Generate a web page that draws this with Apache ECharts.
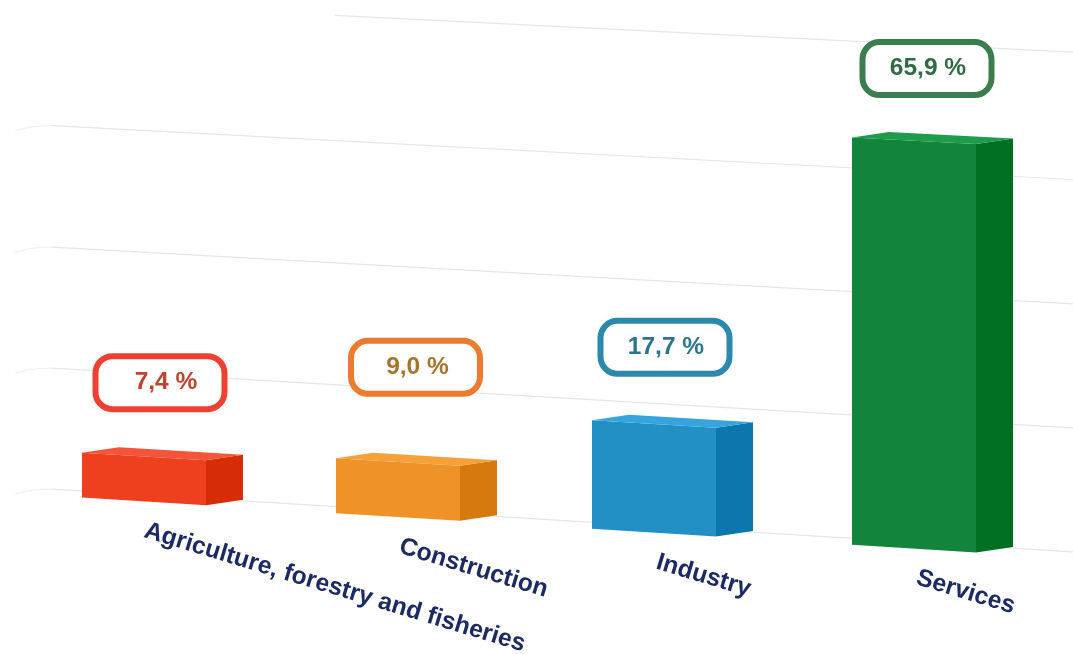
<!DOCTYPE html>
<html>
<head>
<meta charset="utf-8">
<style>html,body{margin:0;padding:0;background:#fff}#c{width:1073px;height:654px}</style>
<script src="https://cdn.jsdelivr.net/npm/echarts@6/dist/echarts.min.js"></script>
</head>
<body>
<div id="c"></div>
<script>
const categories = ['Agriculture, forestry and fisheries', 'Construction', 'Industry', 'Services'];
const values = [7.4, 9.0, 17.7, 65.9];
const valueLabels = ['7,4 %', '9,0 %', '17,7 %', '65,9 %'];
const gridTicks = [0, 20, 40, 60, 80];

const frontColors = ['#ee3f1f', '#ef9227', '#2290c5', '#12843c'];
const sideColors = ['#d62d07', '#d67a10', '#0b77ad', '#006f22'];
const topColors = ['#f4543a', '#f5a13a', '#37a4de', '#1e9b4b'];
const pillColors = ['#ee4030', '#ee7a30', '#2c88ad', '#3a7e4d'];
const pillTextColors = ['#c0432d', '#a8742a', '#2c7590', '#2f6b45'];
const barNudge = [0, -2, -2, 2];
const pillDx = [16, 17.5, 11, 13];
const pillDy = [-70, -91, -73, -69];
const pillTextDx = [6, 2, 1, 1];
const labelDx = [1, 0, 1, 5];

const GRID = { left: 16, top: 10, width: 1024, height: 490 };
const BOTTOM = GRID.top + GRID.height;
const HALF_W = 62, DEPTH_X = 37, DEPTH_Y = -5.5, WALL = 6.5;

// Perspective: sheared baseline, with the vertical scale growing to the right.
function project(px, py) {
  const h0 = BOTTOM - py;
  const h = h0 + 3.7 * Math.pow(h0 / GRID.height, 8);
  const f = (6.05 + 0.000145 * (px - 40)) / 6.125;
  return [px, 486 + 0.0614 * px - h * f];
}
const front = (px, py) => { const p = project(px, py); return [p[0], p[1] + WALL]; };

function renderGrid(params, api) {
  const v = api.value(0);
  const py = api.coord([0, v])[1];
  const isTop = v === gridTicks[gridTicks.length - 1];
  const children = [{
    type: 'line', silent: true,
    shape: { x1: isTop ? 335 : 52, y1: project(isTop ? 335 : 52, py)[1], x2: 1073, y2: project(1073, py)[1] },
    style: { stroke: '#e6e6e6', lineWidth: 1.2 }
  }];
  if (!isTop) {
    const a = project(52, py);
    children.push({
      type: 'polyline', silent: true,
      shape: { points: [[15, a[1] + 5], [32, a[1] + 1.2], a], smooth: 0.4 },
      style: { stroke: '#f1f1f1', lineWidth: 1.2, fill: null }
    });
  }
  return { type: 'group', children };
}

function renderBar(params, api) {
  const i = params.dataIndex;
  const v = api.value(1);
  const base = api.coord([i, 0]);
  const cx = base[0] + barNudge[i];
  const y0 = base[1], y1 = api.coord([i, v])[1];
  const lx = cx - HALF_W, rx = cx + HALF_W;
  const tl = front(lx, y1), tr = front(rx, y1), bl = front(lx, y0), br = front(rx, y0);
  const d = p => [p[0] + DEPTH_X, p[1] + DEPTH_Y];
  const poly = (pts, fill) => ({ type: 'polygon', shape: { points: pts }, style: { fill } });
  const pillW = 129, pillH = 53;
  const pcx = cx + pillDx[i], pcy = tl[1] + pillDy[i];
  const textStart = front(base[0], y0);
  return {
    type: 'group',
    children: [
      poly([tl, tr, br, bl], frontColors[i]),
      poly([tr, d(tr), d(br), br], sideColors[i]),
      poly([tl, d(tl), d(tr), tr], topColors[i]),
      {
        type: 'rect',
        shape: { x: pcx - pillW / 2, y: pcy - pillH / 2, width: pillW, height: pillH, r: 17 },
        style: { fill: '#ffffff', stroke: pillColors[i], lineWidth: 6 }
      },
      {
        type: 'text',
        style: {
          text: valueLabels[i], x: pcx + pillTextDx[i], y: pcy,
          align: 'center', verticalAlign: 'middle',
          font: 'bold 24.5px "Liberation Sans", Arial, sans-serif',
          fill: pillTextColors[i]
        }
      },
      {
        type: 'text',
        x: textStart[0] + labelDx[i], y: textStart[1] + 29,
        rotation: -16.8 * Math.PI / 180,
        style: {
          text: categories[i], x: 0, y: 0,
          align: 'left', verticalAlign: 'middle',
          font: 'bold 24.7px "Liberation Sans", Arial, sans-serif',
          fill: '#1c2a63'
        }
      }
    ]
  };
}

const chart = echarts.init(document.getElementById('c'), null, { renderer: 'canvas' });
chart.setOption({
  animation: false,
  backgroundColor: '#ffffff',
  grid: GRID,
  tooltip: { show: false },
  xAxis: { type: 'category', data: categories, show: false },
  yAxis: { type: 'value', min: 0, max: 80, interval: 20, show: false },
  series: [
    { type: 'custom', clip: false, silent: true, z: 1, data: gridTicks.map(v => [v]), encode: { x: -1, y: 0 }, renderItem: renderGrid },
    { type: 'custom', clip: false, silent: true, z: 2, data: values.map((v, i) => [i, v]), encode: { x: 0, y: 1 }, renderItem: renderBar }
  ]
});
</script>
</body>
</html>
